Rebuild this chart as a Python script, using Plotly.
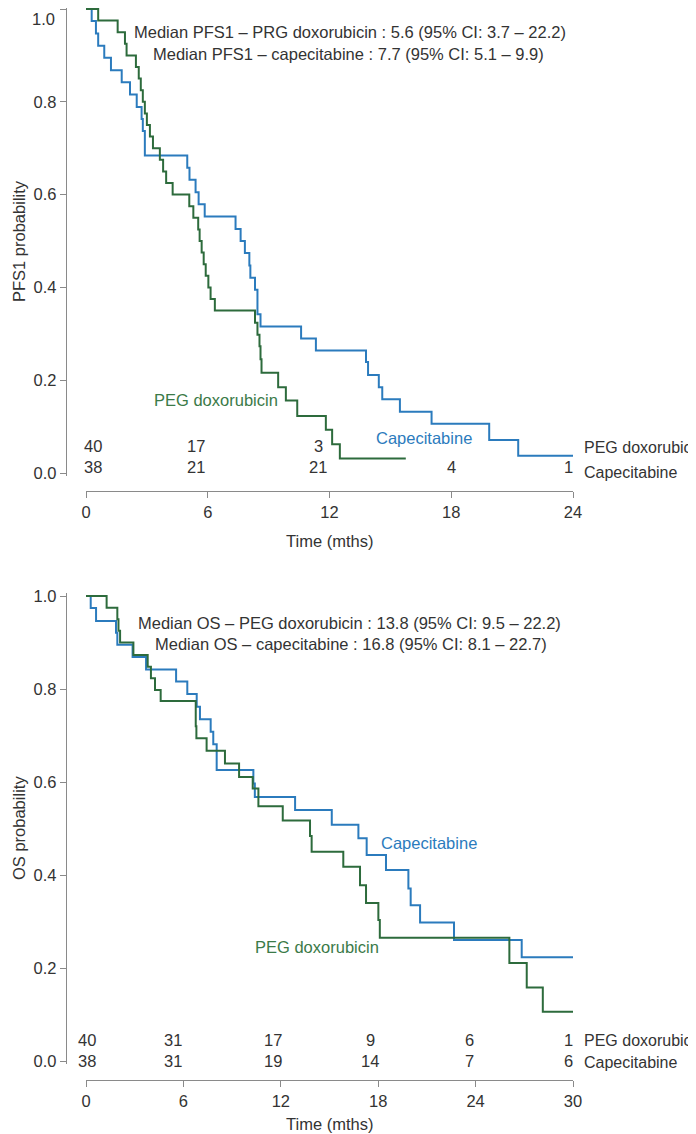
import plotly.graph_objects as go

# page body has an 8px margin, so the figure is 8px smaller than the window
OFF = 8
W, H = 696 - OFF, 1134 - OFF

# ---------------- PFS1 data (step functions: time of change, new survival) ----------------
pfs_cap_t = [0, 0.28, 0.49, 0.6, 0.9, 1.23, 1.76, 2.17, 2.5, 2.74, 2.8, 2.9, 4.99, 5.1, 5.4, 5.55, 5.85,
             7.37, 7.62, 7.83, 8.05, 8.1, 8.33, 8.45, 8.6, 10.6, 11.33, 13.8, 13.9, 14.43, 14.6, 15.47,
             17.03, 19.87, 21.3, 24.0]
pfs_cap_s = [1.0, 0.974, 0.947, 0.921, 0.895, 0.868, 0.842, 0.816, 0.789, 0.763, 0.737, 0.684, 0.658, 0.632,
             0.605, 0.579, 0.553, 0.526, 0.500, 0.474, 0.447, 0.421, 0.395, 0.342, 0.316, 0.290, 0.264,
             0.239, 0.211, 0.185, 0.159, 0.132, 0.106, 0.071, 0.037, 0.037]

pfs_peg_t = [0, 0.6, 1.56, 1.92, 2.0, 2.46, 2.6, 2.7, 2.8, 2.9, 3.0, 3.15, 3.3, 3.64, 3.8, 3.95, 4.27,
             5.09, 5.29, 5.53, 5.6, 5.7, 5.8, 5.9, 6.03, 6.14, 6.35, 8.33, 8.45, 8.55, 8.6, 8.65,
             9.47, 9.85, 10.41, 11.82, 12.13, 12.51, 15.76]
pfs_peg_s = [1.0, 0.975, 0.95, 0.925, 0.9, 0.875, 0.85, 0.825, 0.8, 0.775, 0.75, 0.725, 0.7, 0.675, 0.65,
             0.625, 0.6, 0.575, 0.55, 0.525, 0.5, 0.475, 0.45, 0.425, 0.40, 0.375, 0.35, 0.324, 0.298,
             0.273, 0.245, 0.216, 0.185, 0.156, 0.123, 0.093, 0.062, 0.031, 0.031]

# ---------------- OS data ----------------
os_cap_t = [0, 0.29, 0.62, 1.85, 1.93, 2.87, 3.70, 5.55, 6.24, 6.82, 7.02, 7.68, 7.84, 8.05, 10.31, 10.4,
            12.88, 15.14, 16.78, 17.29, 18.48, 19.86, 20.0, 20.58, 22.67, 26.84, 30.0]
os_cap_s = [1.0, 0.974, 0.946, 0.921, 0.895, 0.869, 0.842, 0.816, 0.789, 0.762, 0.735, 0.708, 0.681, 0.626,
            0.597, 0.568, 0.540, 0.508, 0.479, 0.443, 0.411, 0.371, 0.335, 0.298, 0.260, 0.223, 0.223]

os_peg_t = [0, 1.27, 1.93, 2.0, 2.1, 2.92, 3.80, 4.0, 4.25, 4.60, 6.76, 6.8, 7.43, 8.56, 9.43, 10.27,
            10.62, 12.12, 13.80, 13.90, 15.85, 16.88, 17.25, 18.01, 18.1, 26.08, 27.15, 28.14, 30.0]
os_peg_s = [1.0, 0.975, 0.95, 0.925, 0.9, 0.873, 0.848, 0.823, 0.798, 0.774, 0.72, 0.694, 0.667, 0.640,
            0.611, 0.586, 0.548, 0.517, 0.484, 0.450, 0.418, 0.378, 0.340, 0.303, 0.265, 0.211, 0.158,
            0.106, 0.106]

# ---------------- Risk tables ----------------
pfs_risk_x = [0.35, 5.4, 11.45, 18.0, 23.8]
pfs_risk_peg = ["40", "17", "3", "", ""]
pfs_risk_cap = ["38", "21", "21", "4", "1"]

os_risk_x = [0.05, 5.35, 11.5, 17.5, 23.6, 29.7]
os_risk_peg = ["40", "31", "17", "9", "6", "1"]
os_risk_cap = ["38", "31", "19", "14", "7", "6"]

pfs_xticks = [0, 6, 12, 18, 24]
os_xticks = [0, 6, 12, 18, 24, 30]
yticks = [0.0, 0.2, 0.4, 0.6, 0.8, 1.0]
ytick_text = ["0.0", "0.2", "0.4", "0.6", "0.8", "1.0"]

BLUE = "#2b7bbd"
GREEN = "#2d6b3c"
GREEN_TXT = "#3b7a48"
TXT = "#333333"
AX = "#8a8a8a"
FONT = "Liberation Sans, Arial, sans-serif"
FS = 16.5

def py(p):  # window pixel y -> paper
    return 1 - (p - OFF) / H

def px(p):  # window pixel x -> paper
    return (p - OFF) / W

fig = go.Figure()
fig.add_trace(go.Scatter(x=pfs_cap_t, y=pfs_cap_s, mode="lines", line=dict(shape="hv", color=BLUE, width=2),
                         xaxis="x", yaxis="y", showlegend=False, hoverinfo="skip"))
fig.add_trace(go.Scatter(x=pfs_peg_t, y=pfs_peg_s, mode="lines", line=dict(shape="hv", color=GREEN, width=2),
                         xaxis="x", yaxis="y", showlegend=False, hoverinfo="skip"))
fig.add_trace(go.Scatter(x=os_cap_t, y=os_cap_s, mode="lines", line=dict(shape="hv", color=BLUE, width=2),
                         xaxis="x2", yaxis="y2", showlegend=False, hoverinfo="skip"))
fig.add_trace(go.Scatter(x=os_peg_t, y=os_peg_s, mode="lines", line=dict(shape="hv", color=GREEN, width=2),
                         xaxis="x2", yaxis="y2", showlegend=False, hoverinfo="skip"))

pad = 0.006
# top chart: y(1)=9px, y(0)=473px (464 px per unit); bottom: y(1)=596, y(0)=1061 (465 px)
top_hi = 1 + (9 - OFF) / 464
top_d = [py(473 + pad * 464), 1.0]
bot_d = [py(1061 + pad * 465), py(596 - pad * 465)]

common_x = dict(showgrid=False, zeroline=False, showline=True, linecolor=AX, linewidth=1.3,
                ticks="outside", ticklen=6, tickcolor=AX, tickwidth=1.3, automargin=False,
                tickfont=dict(family=FONT, size=FS, color=TXT), anchor="free",
                domain=[px(86), px(573)])
common_y = dict(showgrid=False, zeroline=False, showline=True, linecolor=AX, linewidth=1.3,
                ticks="outside", ticklen=6, tickcolor=AX, tickwidth=1.3, tickvals=yticks, automargin=False,
                tickfont=dict(family=FONT, size=FS, color=TXT), anchor="free", position=px(66))

fig.update_layout(
    width=W, height=H, margin=dict(l=0, r=0, t=0, b=0, autoexpand=False),
    paper_bgcolor="white", plot_bgcolor="white",
    xaxis=dict(common_x, range=[0, 24], tickvals=pfs_xticks, position=py(491)),
    # top label "1.0" would sit in the page margin; it is drawn as an annotation below
    yaxis=dict(common_y, range=[-pad, top_hi], domain=top_d, ticktext=ytick_text[:-1] + [""]),
    xaxis2=dict(common_x, range=[0, 30], tickvals=os_xticks, position=py(1080)),
    yaxis2=dict(common_y, range=[-pad, 1 + pad], domain=bot_d, ticktext=ytick_text),
)

ann = []
def txt(x, y, s, xref, yref, color=TXT, xanchor="center", angle=0, yanchor="middle", size=FS):
    ann.append(dict(x=x, y=y, text=s, xref=xref, yref=yref, showarrow=False, xanchor=xanchor,
                    yanchor=yanchor, textangle=angle, font=dict(family=FONT, size=size, color=color)))

# top "1.0" tick label
txt(px(57), 1.0, ytick_text[-1], "paper", "paper", xanchor="right", yanchor="top")

# axis titles
txt(px(19), py(241), "PFS1 probability", "paper", "paper", angle=-90)
txt(px(19), py(828), "OS probability", "paper", "paper", angle=-90)
txt(px(329), py(541), "Time (mths)", "paper", "paper")
txt(px(329), py(1124), "Time (mths)", "paper", "paper")

# median text
txt(px(350), py(32), "Median PFS1 – PRG doxorubicin : 5.6 (95% CI: 3.7 – 22.2)", "paper", "paper")
txt(px(348), py(54), "Median PFS1 – capecitabine : 7.7 (95% CI: 5.1 – 9.9)", "paper", "paper")
txt(px(349), py(623), "Median OS – PEG doxorubicin : 13.8 (95% CI: 9.5 – 22.2)", "paper", "paper")
txt(px(351), py(644), "Median OS – capecitabine : 16.8 (95% CI: 8.1 – 22.7)", "paper", "paper")

# curve labels
txt(6.4, 0.157, "PEG doxorubicin", "x", "y", GREEN_TXT)
txt(16.65, 0.076, "Capecitabine", "x", "y", BLUE)
txt(21.1, 0.469, "Capecitabine", "x2", "y2", BLUE)
txt(14.25, 0.245, "PEG doxorubicin", "x2", "y2", GREEN_TXT)

# risk tables
for xv, a, b in zip(pfs_risk_x, pfs_risk_peg, pfs_risk_cap):
    if a:
        txt(xv, 0.058, a, "x", "y")
    if b:
        txt(xv, 0.013, b, "x", "y")
txt(px(582), py(447), "PEG doxorubic", "paper", "paper", TXT, "left", size=16)
txt(px(582), py(473), "Capecitabine", "paper", "paper", TXT, "left", size=16)

for xv, a, b in zip(os_risk_x, os_risk_peg, os_risk_cap):
    txt(xv, (1061 - 1040) / 465, a, "x2", "y2")
    txt(xv, (1061 - 1061) / 465, b, "x2", "y2")
txt(px(582), py(1040), "PEG doxorubic", "paper", "paper", TXT, "left", size=16)
txt(px(582), py(1062), "Capecitabine", "paper", "paper", TXT, "left", size=16)

fig.update_layout(annotations=ann)
fig.write_html("out.html")
